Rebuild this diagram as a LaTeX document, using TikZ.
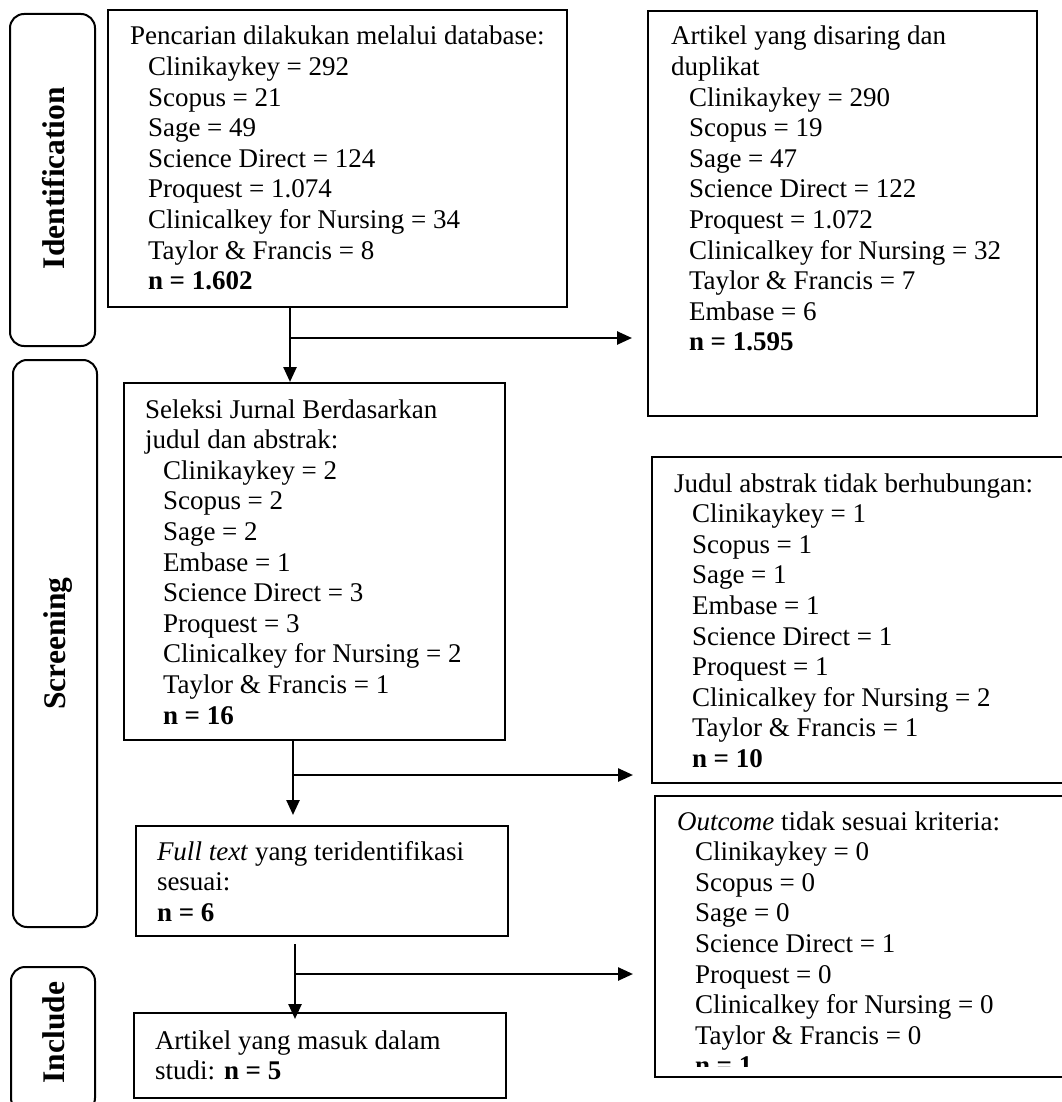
\documentclass[tikz,border=0pt]{standalone}
\usepackage{fontspec}
\setmainfont{Liberation Serif}
\usetikzlibrary{arrows.meta}
\newcommand{\bodyfont}{\fontsize{27}{30.6}\selectfont}
\newcommand{\labfont}{\fontsize{31.5}{36}\selectfont\bfseries}
\newcommand{\tb}[1]{\begin{tabular}[t]{@{}l@{}}#1\end{tabular}}
\newcommand{\ind}{\hspace*{18pt}}
\begin{document}
\begin{tikzpicture}[x=1pt,y=-1pt,
  box/.style={draw, line width=2pt, rectangle, inner sep=0pt, outer sep=0pt},
  phase/.style={draw, line width=2pt, rounded corners=14pt, inner sep=0pt, outer sep=0pt},
  txt/.style={anchor=base west, inner sep=0pt, outer sep=0pt, font=\bodyfont},
  lab/.style={rotate=90, inner sep=0pt, font=\labfont},
  arr/.style={line width=2.5pt, -{Triangle[length=15pt,width=13pt]}},
  ln/.style={line width=2.5pt}]
\useasboundingbox (0,0) rectangle (1061,1102);

% phase boxes
\node[phase, minimum width=85pt, minimum height=332pt] (idbox) at (52.5,180) {};
\node[phase, minimum width=84pt, minimum height=567pt] (scbox) at (55,643.5) {};
\node[phase, minimum width=84pt, minimum height=145pt] (inbox) at (53,1039.5) {};
\node[lab] (idlab) at (54,178) {Identification};
\node[lab] (sclab) at (58,643.5) {Screening};
\node[lab] (inlab) at (54,1032.5) {Include};

% content boxes
\node[box, minimum width=459pt, minimum height=297pt] (b1) at (337.5,158.5) {};
\node[box, minimum width=389pt, minimum height=405pt] (b3) at (842.5,213.5) {};
\node[box, minimum width=381pt, minimum height=357pt] (b2) at (314.5,561.5) {};
\node[box, minimum width=418pt, minimum height=326pt] (b4) at (861,620) {};
\node[box, minimum width=372pt, minimum height=110pt] (bft) at (322,881) {};
\node[box, minimum width=415pt, minimum height=281pt] (bout) at (862.5,936.5) {};
\node[box, minimum width=372pt, minimum height=85pt] (bfin) at (320,1055.5) {};

% texts
\node[txt] (t1) at (130,45) {\tb{Pencarian dilakukan melalui database:\\
\ind Clinikaykey = 292\\
\ind Scopus = 21\\
\ind Sage = 49\\
\ind Science Direct = 124\\
\ind Proquest = 1.074\\
\ind Clinicalkey for Nursing = 34\\
\ind Taylor \& Francis = 8\\
\ind\textbf{n = 1.602}}};

\node[txt] (t3) at (671,45) {\tb{Artikel yang disaring dan\\
duplikat\\
\ind Clinikaykey = 290\\
\ind Scopus = 19\\
\ind Sage = 47\\
\ind Science Direct = 122\\
\ind Proquest = 1.072\\
\ind Clinicalkey for Nursing = 32\\
\ind Taylor \& Francis = 7\\
\ind Embase = 6\\
\ind\textbf{n = 1.595}}};

\node[txt] (t2) at (145,418) {\tb{Seleksi Jurnal Berdasarkan\\
judul dan abstrak:\\
\ind Clinikaykey = 2\\
\ind Scopus = 2\\
\ind Sage = 2\\
\ind Embase = 1\\
\ind Science Direct = 3\\
\ind Proquest = 3\\
\ind Clinicalkey for Nursing = 2\\
\ind Taylor \& Francis = 1\\
\ind\textbf{n = 16}}};

\node[txt] (t4) at (674,492) {\tb{Judul abstrak tidak berhubungan:\\
\ind Clinikaykey = 1\\
\ind Scopus = 1\\
\ind Sage = 1\\
\ind Embase = 1\\
\ind Science Direct = 1\\
\ind Proquest = 1\\
\ind Clinicalkey for Nursing = 2\\
\ind Taylor \& Francis = 1\\
\ind\textbf{n = 10}}};

\node[txt] (tft) at (157,860) {\tb{\textit{Full text} yang teridentifikasi\\
sesuai:\\
\textbf{n = 6}}};

\begin{scope}
\clip (655,796) rectangle (1070,1066);
\node[txt] (tout) at (677,830) {\tb{\textit{Outcome} tidak sesuai kriteria:\\
\ind Clinikaykey = 0\\
\ind Scopus = 0\\
\ind Sage = 0\\
\ind Science Direct = 1\\
\ind Proquest = 0\\
\ind Clinicalkey for Nursing = 0\\
\ind Taylor \& Francis = 0\\
\ind\textbf{n = 1}}};
\end{scope}

\node[txt] (tfin) at (155,1049) {\tb{Artikel yang masuk dalam\\
studi: \textbf{n = 5}}};

% junction coordinates
\coordinate (j1) at (290,338);
\coordinate (j2) at (293,775);
\coordinate (j3) at (295,974);

% connectors
\draw[arr, shorten >=1pt] (b1.south -| j1) -- (b2.north -| j1);
\draw[arr, shorten >=16pt] (j1) -- (b3.west |- j1);
\draw[arr, shorten >=11pt] (b2.south -| j2) -- (bft.north -| j2);
\draw[arr, shorten >=19pt] (j2) -- (b4.west |- j2);
\draw[arr, shorten <=8pt, shorten >=-6pt] (bft.south -| j3) -- (bfin.north -| j3);
\draw[arr, shorten >=22pt] (j3) -- (bout.west |- j3);
\end{tikzpicture}
\end{document}
